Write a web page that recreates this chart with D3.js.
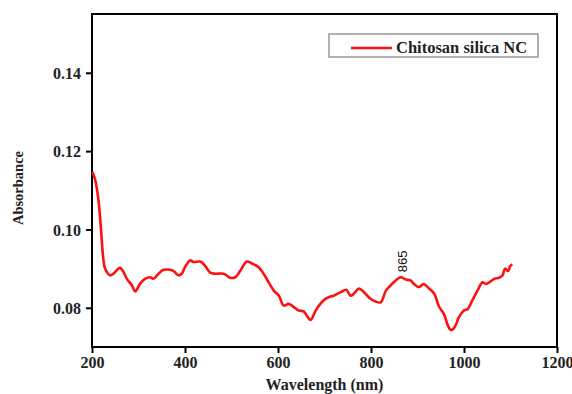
<!DOCTYPE html>
<html>
<head>
<meta charset="utf-8">
<script src="https://cdn.jsdelivr.net/npm/d3@7"></script>
<style>
  body { margin: 0; background: #fff; }
  svg { display: block; }
  .tick text { font-family: "Liberation Serif", "Times New Roman", serif; font-weight: bold; font-size: 16px; fill: #222; }
  .tick line { stroke: #000; stroke-width: 2; }
</style>
</head>
<body>
<div id="chart"></div>
<script>
// wavelength (nm)
var wavelength = [201, 207, 214, 219, 224, 228, 239, 246, 260, 268, 275, 286, 293, 303, 314, 325, 332, 343, 354, 368,
  375, 386, 393, 400, 411, 418, 433, 444, 454, 465, 483, 497, 508, 519, 533, 544, 558, 569, 580, 591,
  602, 612, 623, 634, 645, 655, 663, 670, 681, 691, 702, 713, 720, 735, 747, 756, 763, 774, 785, 799,
  810, 821, 832, 842, 853, 864, 875, 885, 892, 903, 913, 925, 936, 946, 957, 964, 970, 975, 982, 989,
  1000, 1008, 1018, 1029, 1040, 1047, 1058, 1065, 1076, 1083, 1088, 1095, 1099, 1104];

// absorbance, same order
var absorbance = [0.1147, 0.1126, 0.1074, 0.1006, 0.0929, 0.0901, 0.0883, 0.0887, 0.0902, 0.0891, 0.0874, 0.0857, 0.0842, 0.0861, 0.0874, 0.0878, 0.0874, 0.0887, 0.0897, 0.0897,
  0.0894, 0.0883, 0.0887, 0.0904, 0.0921, 0.0917, 0.0918, 0.0906, 0.0890, 0.0887, 0.0887, 0.0877, 0.0878, 0.0895, 0.0918, 0.0913, 0.0904, 0.0887, 0.0865, 0.0844,
  0.0831, 0.0806, 0.0810, 0.0802, 0.0793, 0.0791, 0.0778, 0.0769, 0.0793, 0.0810, 0.0823, 0.0829, 0.0831, 0.0840, 0.0846, 0.0831, 0.0836, 0.0849, 0.0840, 0.0823,
  0.0816, 0.0814, 0.0844, 0.0857, 0.0870, 0.0878, 0.0872, 0.0870, 0.0861, 0.0853, 0.0861, 0.0849, 0.0836, 0.0804, 0.0784, 0.0759, 0.0745, 0.0744, 0.0755, 0.0776,
  0.0793, 0.0797, 0.0819, 0.0844, 0.0865, 0.0861, 0.0868, 0.0874, 0.0877, 0.0883, 0.0900, 0.0894, 0.0906, 0.0911];

var xTicks = [200, 400, 600, 800, 1000, 1200];
var yTicks = [0.08, 0.10, 0.12, 0.14];
var seriesName = "Chitosan silica NC";
var peakLabel = 865;

var margin = {top: 14, right: 15, bottom: 47, left: 92},
    W = 572, H = 394,
    width = W - margin.left - margin.right,
    height = H - margin.top - margin.bottom;

var svg = d3.select("#chart").append("svg")
    .attr("width", W)
    .attr("height", H)
  .append("g")
    .attr("transform", `translate(${margin.left},${margin.top})`);

var x = d3.scaleLinear().domain([200, 1200]).range([0, width]);
var y = d3.scaleLinear().domain([0.07, 0.155]).range([height, 0]);

var data = wavelength.map((w, i) => ({x: w, y: absorbance[i]}));

// axes
var xAxis = svg.append("g")
    .attr("transform", `translate(0,${height})`)
    .call(d3.axisBottom(x).tickValues(xTicks).tickFormat(d3.format("d")).tickSize(6).tickPadding(4));
xAxis.select(".domain").remove();

var yAxis = svg.append("g")
    .call(d3.axisLeft(y).tickValues(yTicks).tickFormat(d3.format(".2f")).tickSize(6).tickPadding(5));
yAxis.select(".domain").remove();
yAxis.selectAll(".tick text").attr("dy", "0.35em");

// frame
svg.append("rect")
    .attr("width", width)
    .attr("height", height)
    .style("fill", "none")
    .style("stroke", "#000")
    .style("stroke-width", 2);

// curve
var line = d3.line()
    .x(d => x(d.x))
    .y(d => y(d.y))
    .curve(d3.curveCatmullRom);

svg.append("path")
    .datum(data)
    .attr("d", line)
    .style("fill", "none")
    .style("stroke", "#ff1010")
    .style("stroke-width", 2.6)
    .style("stroke-linejoin", "round");

// peak annotation
var peak = data.find(d => d.x === 864);
svg.append("text")
    .attr("transform", `translate(${x(peakLabel) + 6},${y(peak.y) - 5}) rotate(-90)`)
    .style("font-family", "Liberation Sans, Arial, sans-serif")
    .style("font-size", "13px")
    .style("fill", "#111")
    .text(peakLabel);

// axis labels
svg.append("text")
    .attr("x", width / 2)
    .attr("y", height + 43)
    .style("text-anchor", "middle")
    .style("font-family", "Liberation Serif, serif")
    .style("font-weight", "bold")
    .style("font-size", "16px")
    .style("fill", "#222")
    .text("Wavelength (nm)");

svg.append("text")
    .attr("transform", `translate(${-69},${174}) rotate(-90)`)
    .style("text-anchor", "middle")
    .style("font-family", "Liberation Serif, serif")
    .style("font-weight", "bold")
    .style("font-size", "14.5px")
    .style("fill", "#222")
    .text("Absorbance");

// legend
var legend = svg.append("g")
    .attr("transform", `translate(${329 - margin.left},${34 - margin.top})`);

legend.append("rect")
    .attr("width", 209)
    .attr("height", 23)
    .style("fill", "#fff")
    .style("stroke", "#999")
    .style("stroke-width", 1.5);

legend.append("line")
    .attr("x1", 22).attr("x2", 63)
    .attr("y1", 14).attr("y2", 14)
    .style("stroke", "#ff1010")
    .style("stroke-width", 2.6);

legend.append("text")
    .attr("x", 67)
    .attr("y", 19)
    .style("font-family", "Liberation Serif, serif")
    .style("font-weight", "bold")
    .style("font-size", "16.5px")
    .style("fill", "#222")
    .text(seriesName);
</script>
</body>
</html>
